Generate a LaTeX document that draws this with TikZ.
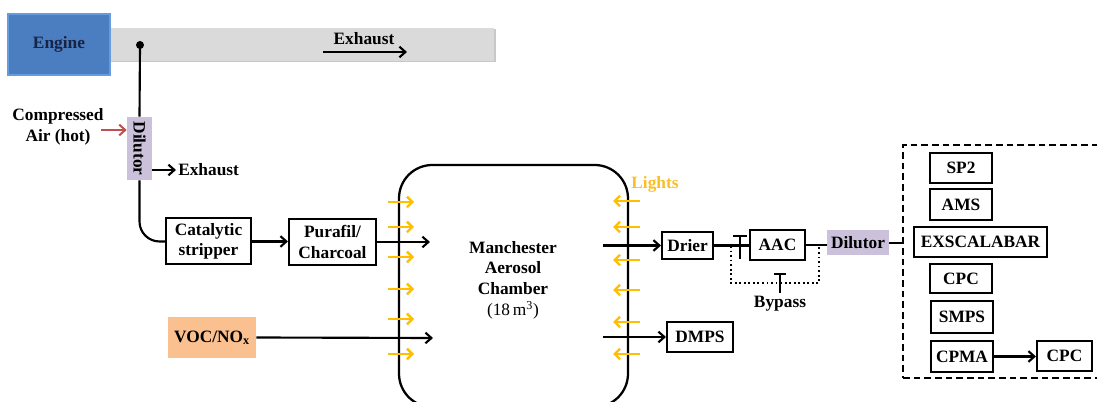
\documentclass[tikz,border=0pt]{standalone}
\usepackage{fontspec}
\setmainfont{Liberation Serif}
\usetikzlibrary{arrows.meta}
\definecolor{engblue}{RGB}{74,126,193}
\definecolor{engedge}{RGB}{100,155,225}
\definecolor{engtext}{RGB}{22,36,70}
\definecolor{bargray}{RGB}{218,218,218}
\definecolor{barshadow}{RGB}{200,200,200}
\definecolor{lav}{RGB}{204,193,218}
\definecolor{peach}{RGB}{250,192,144}
\definecolor{amber}{RGB}{255,190,0}
\definecolor{lighttxt}{RGB}{250,190,40}
\definecolor{airred}{RGB}{192,80,77}
\tikzset{
  txt/.style={font=\fontsize{13}{15.5}\selectfont\bfseries, align=center, inner sep=0pt},
  box/.style={txt, draw=black, line width=1.5pt, fill=white},
  conn/.style={line width=1.6pt, draw=black},
  arr/.style={conn, -{Straight Barb[length=4.5pt,width=8pt]}},
  lightarr/.style={line width=1.8pt, draw=amber, -{Straight Barb[length=4pt,width=8pt]}},
  valve/.style={line width=1.5pt, draw=black},
}
\begin{document}
\begin{tikzpicture}[x=0.75pt,y=-0.75pt]
\useasboundingbox (0,0) rectangle (1097,402);
% exhaust bar
\fill[barshadow] (111,29.5) rectangle (495.5,62.5);
\node[fill=bargray, minimum width=384*0.75pt, minimum height=33*0.75pt, inner sep=0pt] (bar) at (302,44.5) {};
\node[txt, fill=engblue, draw=engedge, line width=0.8pt, text=engtext, minimum width=102*0.75pt, minimum height=61*0.75pt] (engine) at (59,44.5) {Engine};
\node[txt] (exlab) at (364,39) {Exhaust};
\coordinate (exa) at (323,52);
\coordinate (exb) at (407,52);
\draw[arr] (exa) -- (exb);
% sample line
\coordinate (tap) at (140,45);
\fill (tap) circle (3pt);
\node[txt, fill=lav, minimum width=63*0.75pt, minimum height=25*0.75pt, rotate=-90] (dil1) at (139.5,148.5) {Dilutor};
\node[txt] (ca) at (58,127) {Compressed\\Air (hot)};
\coordinate (caout) at (101,130);
\draw[line width=1.5pt, draw=airred, -{Straight Barb[length=4.5pt,width=8pt]}] (caout) -- (caout -| dil1.south);
\coordinate (ex2) at (176,170);
\draw[arr] (ex2 -| dil1.north) -- (ex2);
\node[txt, anchor=west] (ex2lab) at (178,170) {Exhaust};
\draw[conn] (tap) -- (dil1.west);
\node[box, minimum width=85*0.75pt, minimum height=46*0.75pt] (cat) at (208.5,241.5) {Catalytic\\stripper};
\draw[conn, rounded corners=15pt] (dil1.east) |- (cat.west);
\node[box, minimum width=87*0.75pt, minimum height=46*0.75pt] (pur) at (332.5,242) {Purafil/\\Charcoal};
\draw[arr] (cat.east) -- (cat.east -| pur.west);
\node[txt, fill=peach, minimum width=88*0.75pt, minimum height=41*0.75pt] (voc) at (212,337.5) {VOC/NO\textsubscript{x}};
% chamber
\node[draw=black, line width=1.7pt, rounded corners=25pt, minimum width=229*0.75pt, minimum height=242*0.75pt, inner sep=0pt] (ch) at (513.5,286) {};
\node[txt] (chlab) at (513,280) {Manchester\\Aerosol\\Chamber\\\mdseries(18\,m\textsuperscript{3})};
\coordinate (in1) at (430,242);
\coordinate (in2) at (433,338);
\draw[arr] (pur.east) -- (in1);
\draw[arr] (voc.east) -- (in2);
% lights
\foreach \y in {202,227,257,289,319,354} \draw[lightarr] (388,\y) -- (414,\y);
\foreach \y in {201,227,260,290,322,354} \draw[lightarr] (640,\y) -- (613,\y);
\node[txt, text=lighttxt] (lights) at (655,184) {Lights};
% outputs
\node[box, minimum width=51*0.75pt, minimum height=27*0.75pt] (drier) at (687.5,245.5) {Drier};
\node[box, minimum width=66*0.75pt, minimum height=30*0.75pt] (dmps) at (700,337) {DMPS};
\coordinate (out1) at (603,245.5);
\coordinate (out2) at (603,337);
\draw[arr] (out1) -- (drier.west);
\draw[arr] (out2) -- (dmps.west);
\node[box, minimum width=55*0.75pt, minimum height=30*0.75pt] (aac) at (777.5,245) {AAC};
\node[txt, fill=lav, minimum width=62*0.75pt, minimum height=25*0.75pt] (dil2) at (858,243) {Dilutor};
\draw[conn] (drier.east) -- (drier.east -| aac.west);
\draw[conn] (aac.east) -- (aac.east -| dil2.west);
% valve on AAC line
\coordinate (v1t) at (740,236);
\coordinate (v1b) at (740,259);
\draw[valve] (v1t) -- (v1b);
\draw[valve] ([xshift=-5.5pt]v1t) -- ([xshift=5.5pt]v1t);
% bypass
\coordinate (bp1) at (731,246);
\coordinate (bp2) at (819,246);
\draw[line width=1.4pt, dotted] (bp1) -- (731,283) -- (819,283) -- (bp2);
\coordinate (v2t) at (780,274);
\coordinate (v2b) at (780,293);
\draw[valve] (v2t) -- (v2b);
\draw[valve] ([xshift=-4.5pt]v2t) -- ([xshift=4.5pt]v2t);
\node[txt, anchor=north] (bypass) at (780,296) {Bypass};
% instrument rack
\node[draw=black, line width=1.5pt, dashed, dash pattern=on 5pt off 3pt, minimum width=200*0.75pt, minimum height=233*0.75pt, inner sep=0pt] (rack) at (1003,261.5) {};
\draw[conn] (dil2.east) -- (dil2.east -| rack.west);
\node[box, minimum width=62*0.75pt, minimum height=30*0.75pt] (sp2) at (961,168) {SP2};
\node[box, minimum width=62*0.75pt, minimum height=31*0.75pt] (ams) at (961,204.5) {AMS};
\node[box, minimum width=133*0.75pt, minimum height=30*0.75pt] (exs) at (980.5,242) {EXSCALABAR};
\node[box, minimum width=62*0.75pt, minimum height=29*0.75pt] (cpc) at (961,278.5) {CPC};
\node[box, minimum width=62*0.75pt, minimum height=32*0.75pt] (smps) at (962,317) {SMPS};
\node[box, minimum width=62*0.75pt, minimum height=31*0.75pt] (cpma) at (962,356.5) {CPMA};
\node[box, minimum width=55*0.75pt, minimum height=30*0.75pt] (cpc2) at (1064.5,356) {CPC};
\draw[arr] (cpma.east) -- (cpma.east -| cpc2.west);
\end{tikzpicture}
\end{document}
